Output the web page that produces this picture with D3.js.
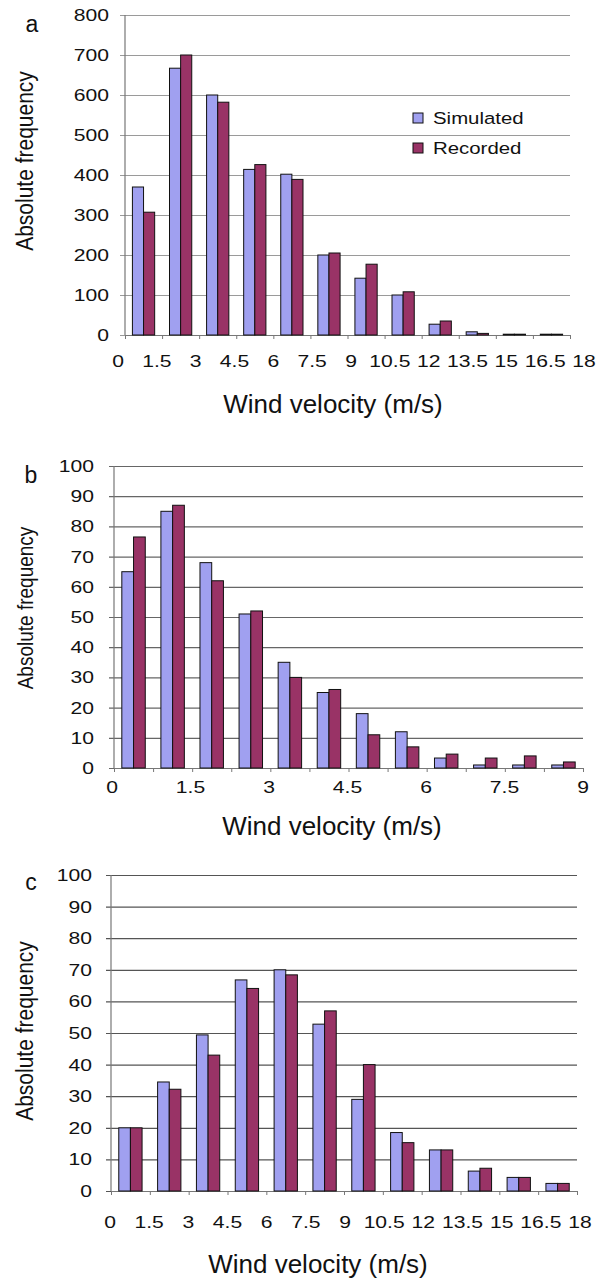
<!DOCTYPE html>
<html>
<head>
<meta charset="utf-8">
<script src="https://cdn.jsdelivr.net/npm/d3@7"></script>
<style>
  html, body { margin: 0; padding: 0; background: #fff; }
  svg { display: block; }
  text { font-family: "Liberation Sans", Arial, sans-serif; fill: #111; }
</style>
</head>
<body>
<svg id="chart" width="606" height="1282"></svg>
<script>
// ---------------- DATA ----------------
const seriesNames = ["Simulated", "Recorded"];

// Panel a: bins of 1.5 m/s from 0 to 18
const binsA = ["0-1.5","1.5-3","3-4.5","4.5-6","6-7.5","7.5-9","9-10.5","10.5-12","12-13.5","13.5-15","15-16.5","16.5-18"];
const simA = [370, 667, 600, 414, 402, 200, 142, 100, 27, 8, 2, 2];
const recA = [307, 700, 582, 426, 389, 205, 177, 108, 35, 4, 2, 2];
const xLabelsA = [0, 1.5, 3, 4.5, 6, 7.5, 9, 10.5, 12, 13.5, 15, 16.5, 18];
const yTicksA = [0, 100, 200, 300, 400, 500, 600, 700, 800];

// Panel b: bins of 0.75 m/s from 0 to 9
const binsB = ["0-0.75","0.75-1.5","1.5-2.25","2.25-3","3-3.75","3.75-4.5","4.5-5.25","5.25-6","6-6.75","6.75-7.5","7.5-8.25","8.25-9"];
const simB = [65, 85, 68, 51, 35, 25, 18, 12, 3.3, 1, 1, 1];
const recB = [76.5, 87, 62, 52, 30, 26, 11, 7, 4.6, 3.3, 4, 2];
const xLabelsB = [0, 1.5, 3, 4.5, 6, 7.5, 9];
const yTicksB = [0, 10, 20, 30, 40, 50, 60, 70, 80, 90, 100];

// Panel c: bins of 1.5 m/s from 0 to 18
const binsC = binsA.slice();
const simC = [20, 34.5, 49.4, 66.8, 70, 52.8, 29, 18.5, 13, 6.3, 4.3, 2.4];
const recC = [20, 32.2, 43, 64.1, 68.4, 57, 40, 15.3, 13, 7.2, 4.3, 2.4];
const xLabelsC = [0, 1.5, 3, 4.5, 6, 7.5, 9, 10.5, 12, 13.5, 15, 16.5, 18];
const yTicksC = [0, 10, 20, 30, 40, 50, 60, 70, 80, 90, 100];

const xTitle = "Wind velocity  (m/s)";
const yTitle = "Absolute frequency";

// ---------------- LAYOUT / STYLE ----------------
const colors = { Simulated: "#a0a0f0", Recorded: "#993366" };

const panels = [
  { letter: "a", bins: binsA, sim: simA, rec: recA, xLabels: xLabelsA, yTicks: yTicksA, yMax: 800,
    left: 125, right: 570, top: 15, bottom: 335, gridColor: "#9a9a9a",
    yLabelRight: 109, labelLeft: 118, labelRight: 584, labelY: 367,
    titleX: 333, titleY: 413, yTitleX: 33, yTitleY: 161, yTitleSize: 21,
    letterX: 32, letterY: 32, legend: true },
  { letter: "b", bins: binsB, sim: simB, rec: recB, xLabels: xLabelsB, yTicks: yTicksB, yMax: 100,
    left: 114, right: 583, top: 466, bottom: 768, gridColor: "#666",
    yLabelRight: 94, labelLeft: 112, labelRight: 583, labelY: 793,
    titleX: 332, titleY: 835, yTitleX: 33, yTitleY: 608, yTitleSize: 19,
    letterX: 31, letterY: 483, legend: false },
  { letter: "c", bins: binsC, sim: simC, rec: recC, xLabels: xLabelsC, yTicks: yTicksC, yMax: 100,
    left: 111, right: 577, top: 875, bottom: 1191, gridColor: "#555",
    yLabelRight: 92, labelLeft: 110, labelRight: 580, labelY: 1228,
    titleX: 318, titleY: 1273, yTitleX: 33, yTitleY: 1031, yTitleSize: 21,
    letterX: 31, letterY: 890, legend: false }
];

const svg = d3.select("#chart");
const SX = 1.28; // horizontal stretch seen in the reference lettering

function stretchedText(g, x, y, str, size, sx, anchor) {
  return g.append("text")
    .attr("transform", `translate(${x},${y}) scale(${sx},1)`)
    .attr("text-anchor", anchor || "start")
    .style("font-size", size + "px")
    .text(str);
}

panels.forEach(p => {
  const g = svg.append("g");
  const y = d3.scaleLinear().domain([0, p.yMax]).range([p.bottom, p.top]);
  const xBand = d3.scaleBand().domain(p.bins).range([p.left, p.right])
    .paddingInner(0.4).paddingOuter(0.2);
  const xSub = d3.scaleBand().domain(seriesNames).range([0, xBand.bandwidth()]);
  const xTickScale = d3.scaleLinear().domain([0, p.bins.length]).range([p.left, p.right]);
  const xLabelScale = d3.scaleLinear()
    .domain([p.xLabels[0], p.xLabels[p.xLabels.length - 1]])
    .range([p.labelLeft, p.labelRight]);

  // horizontal gridlines + small left ticks
  const yAxis = d3.axisLeft(y).tickValues(p.yTicks).tickFormat("")
    .tickSizeInner(-(p.right - p.left)).tickSizeOuter(0);
  const ga = g.append("g").attr("transform", `translate(${p.left},0)`).call(yAxis);
  ga.select(".domain").remove();
  ga.selectAll(".tick line").attr("stroke", p.gridColor).attr("stroke-width", 1.2)
    .attr("x1", -5);

  // y tick labels
  g.append("g").selectAll("text").data(p.yTicks).join("text")
    .attr("transform", d => `translate(${p.yLabelRight},${y(d) + 6}) scale(${SX},1)`)
    .attr("text-anchor", "end")
    .style("font-size", "16.5px")
    .text(d => d);

  // vertical axis line
  g.append("line").attr("x1", p.left).attr("x2", p.left)
    .attr("y1", y(p.yMax)).attr("y2", y(0))
    .attr("stroke", "#777").attr("stroke-width", 1.2);

  // x axis with ticks at bin boundaries
  const xAxis = d3.axisBottom(xTickScale).ticks(p.bins.length).tickFormat("")
    .tickSizeInner(4).tickSizeOuter(0);
  const gx = g.append("g").attr("transform", `translate(0,${p.bottom})`).call(xAxis);
  gx.select(".domain").attr("stroke", "#777").attr("stroke-width", 1.2);
  gx.selectAll(".tick line").attr("stroke", "#777");

  // bars
  const rows = p.bins.map((b, i) => ({ bin: b, Simulated: p.sim[i], Recorded: p.rec[i] }));
  const grp = g.append("g").selectAll("g").data(rows).join("g")
    .attr("transform", d => `translate(${xBand(d.bin)},0)`);
  grp.selectAll("rect").data(d => seriesNames.map(k => ({ key: k, value: d[k] }))).join("rect")
    .attr("x", d => xSub(d.key))
    .attr("width", xSub.bandwidth())
    .attr("y", d => y(d.value))
    .attr("height", d => y(0) - y(d.value))
    .attr("fill", d => colors[d.key])
    .attr("stroke", "#111")
    .attr("stroke-width", 1);

  // x tick labels
  g.append("g").selectAll("text").data(p.xLabels).join("text")
    .attr("transform", d => `translate(${xLabelScale(d)},${p.labelY}) scale(${SX},1)`)
    .attr("text-anchor", "middle")
    .style("font-size", "16.5px")
    .text(d => d);

  // x title
  g.append("text").attr("x", p.titleX).attr("y", p.titleY)
    .attr("text-anchor", "middle").style("font-size", "26px")
    .text(xTitle);

  // y title
  g.append("text")
    .attr("transform", `translate(${p.yTitleX},${p.yTitleY}) rotate(-90) scale(1,1.15)`)
    .attr("text-anchor", "middle").style("font-size", p.yTitleSize + "px")
    .text(yTitle);

  // panel letter
  g.append("text").attr("x", p.letterX).attr("y", p.letterY)
    .attr("text-anchor", "middle").style("font-size", "23px")
    .text(p.letter);

  // legend
  if (p.legend) {
    const lg = g.append("g");
    seriesNames.forEach((s, i) => {
      const ly = 118 + i * 30;
      lg.append("rect").attr("x", 413).attr("y", ly - 5).attr("width", 10).attr("height", 10)
        .attr("fill", colors[s]).attr("stroke", "#111").attr("stroke-width", 1);
      stretchedText(lg, 433, ly + 6, s, 17, 1.2, "start");
    });
  }
});
</script>
</body>
</html>
